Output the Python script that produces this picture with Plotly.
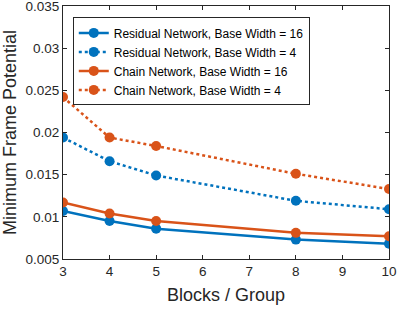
import plotly.graph_objects as go

blocks = [3, 4, 5, 8, 10]
res16 = [0.0107, 0.0095, 0.0086, 0.0073, 0.0068]
res4 = [0.0194, 0.0166, 0.0149, 0.0119, 0.0109]
chain16 = [0.0117, 0.0104, 0.0095, 0.0081, 0.0077]
chain4 = [0.0242, 0.0194, 0.0184, 0.0151, 0.0133]

names = ["Residual Network, Base Width = 16", "Residual Network, Base Width = 4",
         "Chain Network, Base Width = 16", "Chain Network, Base Width = 4"]
blue = "#0072BD"
orange = "#D95319"
FONT = "Liberation Sans, Arial"

fig = go.Figure()
for name, ys, col, dash in [(names[0], res16, blue, "solid"), (names[1], res4, blue, "dot"),
                            (names[2], chain16, orange, "solid"), (names[3], chain4, orange, "dot")]:
    fig.add_trace(go.Scatter(x=blocks, y=ys, name=name, mode="lines+markers",
                             line=dict(color=col, width=2.5, dash=dash),
                             marker=dict(color=col, size=10)))

axis_common = dict(showgrid=False, zeroline=False, showline=True, linecolor="#262626",
                   linewidth=1, mirror="ticks", ticks="inside", ticklen=4, tickcolor="#262626",
                   automargin=False, ticklabeloverflow="allow",
                   tickfont=dict(family=FONT, size=13.5, color="#262626"))
fig.update_xaxes(range=[3, 10], dtick=1,
                 title=dict(text="Blocks / Group", font=dict(family=FONT, size=18, color="#262626"), standoff=10),
                 **axis_common)
fig.update_yaxes(range=[0.005, 0.035], dtick=0.005,
                 title=dict(text="Minimum Frame Potential", font=dict(family=FONT, size=18, color="#262626"), standoff=5),
                 **axis_common)
fig.update_layout(width=399, height=309, margin=dict(l=63, r=10, t=6, b=50),
                  plot_bgcolor="white", paper_bgcolor="white",
                  legend=dict(x=0.03, y=0.955, xanchor="left", yanchor="top",
                              bgcolor="white", bordercolor="#262626", borderwidth=1,
                              font=dict(family=FONT, size=12, color="#000"),
                              tracegroupgap=0, itemwidth=30),
                  showlegend=True)
fig.write_html("out.html", config={"displayModeBar": False},
               post_script="document.body.style.margin='0';document.body.style.overflow='hidden';")
